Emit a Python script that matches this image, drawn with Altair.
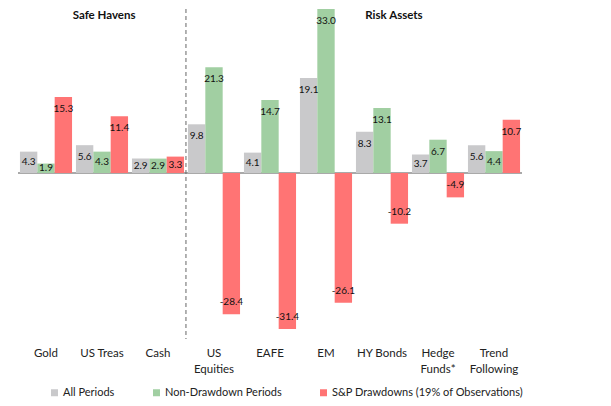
import altair as alt
import pandas as pd

categories = ["Gold", "US Treas", "Cash", "US Equities", "EAFE", "EM", "HY Bonds", "Hedge Funds*", "Trend Following"]
axis_labels = ["Gold", "US Treas", "Cash", "US\nEquities", "EAFE", "EM", "HY Bonds", "Hedge\nFunds*", "Trend\nFollowing"]
series = ["All Periods", "Non-Drawdown Periods", "S&P Drawdowns (19% of Observations)"]
all_periods = [4.3, 5.6, 2.9, 9.8, 4.1, 19.1, 8.3, 3.7, 5.6]
non_drawdown = [1.9, 4.3, 2.9, 21.3, 14.7, 33.0, 13.1, 6.7, 4.4]
drawdowns = [15.3, 11.4, 3.3, -28.4, -31.4, -26.1, -10.2, -4.9, 10.7]
colors = ["#c9c9cb", "#a1cfa2", "#ff7474"]

rows = []
for i, c in enumerate(axis_labels):
    for s, vals in zip(series, [all_periods, non_drawdown, drawdowns]):
        rows.append({"cat": c, "series": s, "v": vals[i], "txt": f"{vals[i]:.1f}"})
df = pd.DataFrame(rows)

FONT = "Lato"
W, H = 504, 330

xs = alt.Scale(domain=axis_labels, paddingInner=0.07, paddingOuter=0.035)
ys = alt.Scale(domain=[-33.4, 33.0], nice=False, zero=False)

xaxis = alt.Axis(title=None, orient="bottom", domain=False, ticks=False, labelAngle=0,
                 labelFont=FONT, labelFontSize=11.5, labelColor="#222", labelPadding=8,
                 labelLineHeight=16, labelExpr="split(datum.label, '\\n')",
                 labelOverlap=False, labelBound=False, labelLimit=0)

base = alt.Chart(df).encode(
    x=alt.X("cat:N", scale=xs, axis=xaxis, sort=axis_labels),
    xOffset=alt.XOffset("series:N", sort=series, scale=alt.Scale(paddingInner=0, paddingOuter=0)),
)

bars = base.mark_bar().encode(
    y=alt.Y("v:Q", scale=ys, axis=None),
    color=alt.Color("series:N", sort=series,
                    scale=alt.Scale(domain=series, range=colors),
                    legend=alt.Legend(title=None, orient="none", direction="horizontal",
                                      legendX=31, legendY=378, padding=0,
                                      symbolType="square", symbolSize=49, symbolStrokeWidth=0,
                                      labelFont=FONT, labelFontSize=11, labelColor="#222",
                                      labelOffset=3, columnPadding=36, labelLimit=0)),
)

labels = base.transform_calculate(
    pos="datum.v >= 0 ? max(datum.v - 2.4, datum.v / 2) : min(datum.v + 2.4, datum.v / 2)",
).mark_text(font=FONT, fontSize=10, color="#111", baseline="middle").encode(
    y=alt.Y("pos:Q", scale=ys, axis=None),
    text="txt:N",
)

zero = alt.Chart(pd.DataFrame({"z": [0]})).mark_rule(color="#8c8c8c", strokeWidth=1.5).encode(
    y=alt.Y("z:Q", scale=ys, axis=None)
)

divider = alt.Chart(pd.DataFrame({"cat": ["US\nEquities"]})).mark_rule(
    color="#666", strokeDash=[4, 3], strokeWidth=1, xOffset=-2
).encode(x=alt.X("cat:N", scale=xs, bandPosition=0))

t1 = alt.Chart(pd.DataFrame({"cat": ["US Treas"], "t": ["Safe Havens"], "yy": [33.0]})).mark_text(
    font=FONT, fontSize=11.5, fontWeight="bold", color="#111", baseline="top", dy=1
).encode(x=alt.X("cat:N", scale=xs, bandPosition=0.54),
         y=alt.Y("yy:Q", scale=ys, axis=None), text="t:N")

t2 = alt.Chart(pd.DataFrame({"cat": ["HY Bonds"], "t": ["Risk Assets"], "yy": [33.0]})).mark_text(
    font=FONT, fontSize=11.5, fontWeight="bold", color="#111", baseline="top", dy=1
).encode(x=alt.X("cat:N", scale=xs, bandPosition=0.73),
         y=alt.Y("yy:Q", scale=ys, axis=None), text="t:N")

chart = alt.layer(zero, bars, labels, divider, t1, t2).properties(
    width=W, height=H,
    padding={"left": 9, "top": 0, "right": 5, "bottom": 0},
).configure_view(stroke=None)

chart.save("out.html", embed_options={"renderer": "svg", "actions": False})
